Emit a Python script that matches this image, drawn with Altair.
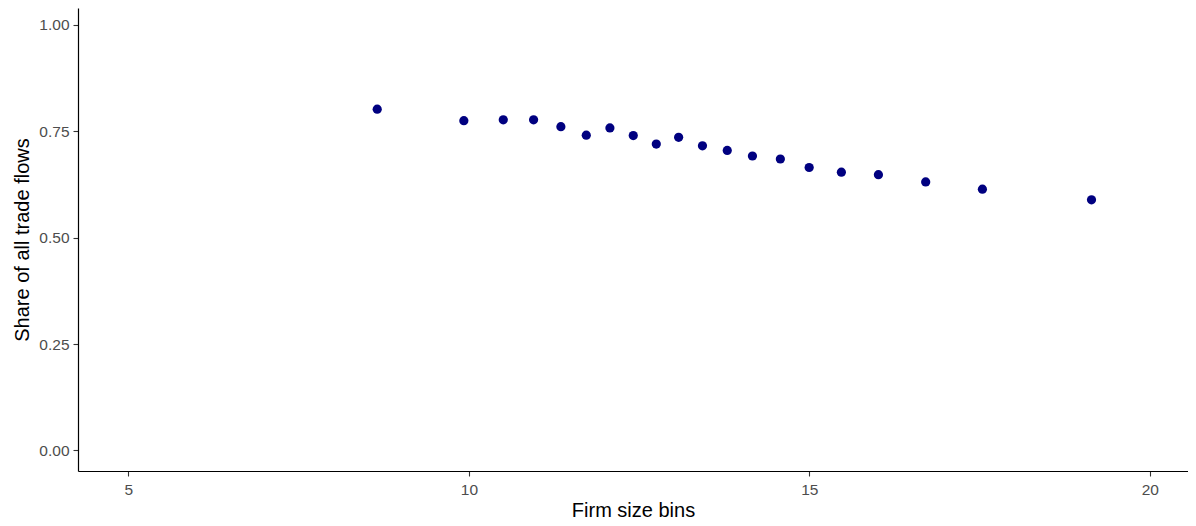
import altair as alt
import pandas as pd

firm_size_bins = [8.654, 9.926, 10.505, 10.950, 11.351, 11.724, 12.071, 12.414, 12.752, 13.080,
                  13.430, 13.794, 14.164, 14.574, 14.997, 15.470, 16.014, 16.708, 17.541, 19.143]
share_trade_flows = [0.802, 0.775, 0.777, 0.777, 0.761, 0.741, 0.758, 0.740, 0.720, 0.736,
                     0.716, 0.705, 0.692, 0.685, 0.665, 0.654, 0.648, 0.631, 0.614, 0.589]
x_ticks = [5, 10, 15, 20]
y_ticks = [0.0, 0.25, 0.5, 0.75, 1.0]

df = pd.DataFrame({"bin": firm_size_bins, "share": share_trade_flows})

FONT = "Liberation Sans"

chart = alt.Chart(df).mark_circle(size=85, color="#000080", opacity=1).encode(
    x=alt.X("bin:Q", title="Firm size bins",
            scale=alt.Scale(domain=[4.26, 20.56], nice=False, zero=False),
            axis=alt.Axis(values=x_ticks, format="d", grid=False,
                          domainColor="black", domainWidth=1.2,
                          tickColor="#333333", tickSize=5, tickWidth=1.1,
                          labelColor="#4d4d4d", labelFontSize=15.5, labelFont=FONT,
                          labelPadding=6,
                          titleFont=FONT, titleFontSize=20, titleFontWeight="normal",
                          titleColor="black", titlePadding=3)),
    y=alt.Y("share:Q", title="Share of all trade flows",
            scale=alt.Scale(domain=[-0.0484, 1.0399], nice=False, zero=False),
            axis=alt.Axis(values=y_ticks, format=".2f", grid=False,
                          domainColor="black", domainWidth=1.2,
                          tickColor="#333333", tickSize=5, tickWidth=1.1,
                          labelColor="#4d4d4d", labelFontSize=15.5, labelFont=FONT,
                          labelPadding=4,
                          titleFont=FONT, titleFontSize=20, titleFontWeight="normal",
                          titleColor="black", titlePadding=6)),
).properties(
    width=1110,
    height=463,
    autosize=alt.AutoSizeParams(type="none"),
    padding={"left": 70, "top": 0, "right": 0, "bottom": 54},
).configure(background="white").configure_view(stroke=None, strokeWidth=0)

chart.save("out.html", embed_options={"renderer": "svg", "actions": False})
